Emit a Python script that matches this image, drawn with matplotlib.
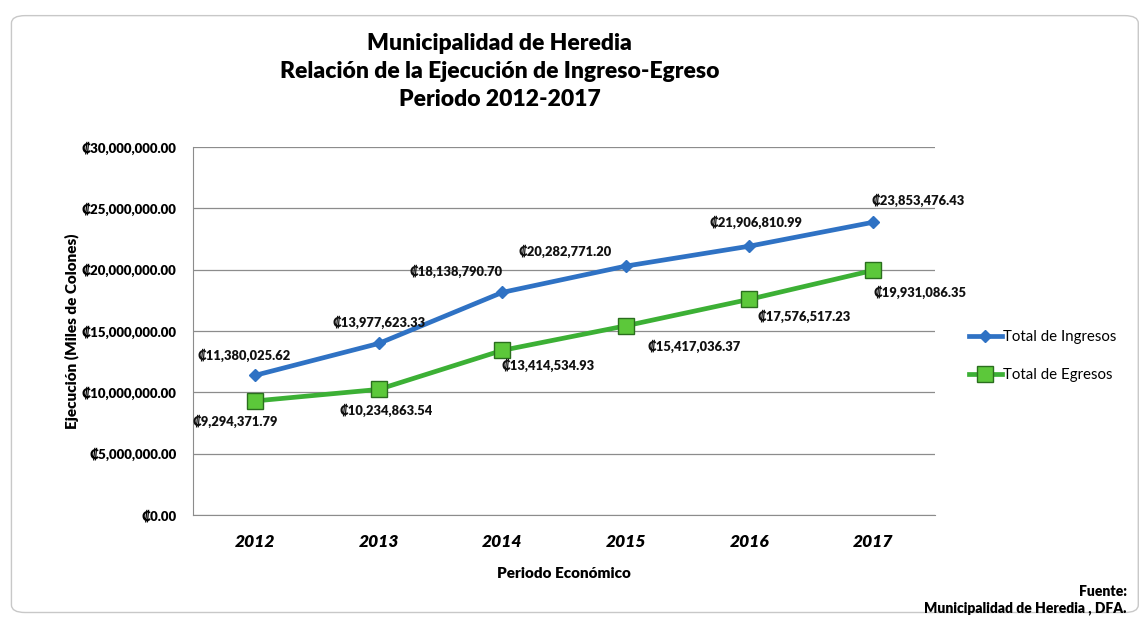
import matplotlib.pyplot as plt
from matplotlib.patches import FancyBboxPatch
from matplotlib.ticker import FuncFormatter

FONT = ['Lato', 'DejaVu Sans']
plt.rcParams['font.family'] = FONT

years = ['2012', '2013', '2014', '2015', '2016', '2017']
ingresos = [11380025.62, 13977623.33, 18138790.70, 20282771.20, 21906810.99, 23853476.43]
egresos = [9294371.79, 10234863.54, 13414534.93, 15417036.37, 17576517.23, 19931086.35]

# label offsets in pixels (dx, dy)
off_ing = [(-11, 20), (0, 21), (-46, 21), (-61, 15), (7, 24), (45, 22)]
off_egr = [(-20, -20), (7, -21), (46, -15), (68, -20), (55, -17), (47, -22)]

fig = plt.figure(figsize=(11.44, 6.25), dpi=100)
fig.patch.set_facecolor('white')
frame = FancyBboxPatch((0.01, 0.02), 0.985, 0.955, boxstyle='round,pad=0,rounding_size=0.012',
                       transform=fig.transFigure, facecolor='none', edgecolor='#c8c8c8',
                       lw=1.0, zorder=-1)
fig.patches.append(frame)

ax = fig.add_axes([0.169, 0.176, 0.648, 0.589])
ax.patch.set_alpha(0)
x = range(len(years))

ax.plot(x, ingresos, color='#2f72c4', lw=3.4, marker='D', ms=6,
        mfc='#2f72c4', mec='#2f72c4', label='Total de Ingresos', zorder=3)
ax.plot(x, egresos, color='#3cb035', lw=3.4, marker='s', ms=11,
        mfc='#5cc83a', mec='#2a6e1e', mew=1.0, label='Total de Egresos', zorder=3)

fmt = lambda v: '\u20a1{:,.2f}'.format(v)
for i, v in enumerate(ingresos):
    ax.annotate(fmt(v), (i, v), xytext=off_ing[i], textcoords='offset pixels',
                ha='center', va='center', fontsize=9.3, fontweight='heavy', color='#111111')
for i, v in enumerate(egresos):
    ax.annotate(fmt(v), (i, v), xytext=off_egr[i], textcoords='offset pixels',
                ha='center', va='center', fontsize=9.3, fontweight='heavy', color='#111111')

ax.set_xlim(-0.5, 5.5)
ax.set_ylim(0, 30000000)
ax.set_yticks(range(0, 30000001, 5000000))
ax.yaxis.set_major_formatter(FuncFormatter(lambda v, p: '\u20a1{:,.2f}'.format(v)))
ax.set_xticks(list(x))
ax.set_xticklabels(years, fontsize=12.5, fontweight='heavy', fontstyle='italic')
for t in ax.get_yticklabels():
    t.set_fontsize(9.5)
    t.set_fontweight('heavy')
ax.tick_params(axis='y', length=0, pad=12)
ax.tick_params(axis='x', length=0, pad=14)
ax.grid(axis='y', color='#8c8c8c', lw=0.9)
ax.set_axisbelow(True)
for s in ['top', 'right']:
    ax.spines[s].set_visible(False)
ax.spines['left'].set_color('#8c8c8c')
ax.spines['bottom'].set_color('#8c8c8c')

ax.set_ylabel('Ejecución (Miles de Colones)', fontsize=11, fontweight='heavy', labelpad=2)
ax.set_xlabel('Periodo Económico', fontsize=11, fontweight='heavy', labelpad=12)

fig.text(0.437, 0.886, 'Municipalidad de Heredia\nRelación de la Ejecución de Ingreso-Egreso\nPeriodo 2012-2017',
         ha='center', va='center', fontsize=16.5, fontweight='heavy', linespacing=1.4)

leg = fig.legend(loc='center left', bbox_to_anchor=(0.835, 0.43), frameon=False,
                 fontsize=10.8, handlelength=2.2, handletextpad=0.1, labelspacing=1.6)

fig.text(0.985, 0.04, 'Fuente:\nMunicipalidad de Heredia , DFA.', ha='right', va='center',
         fontsize=10, fontweight='heavy', linespacing=1.3)

fig.savefig('out.png', dpi=100, facecolor='white')
